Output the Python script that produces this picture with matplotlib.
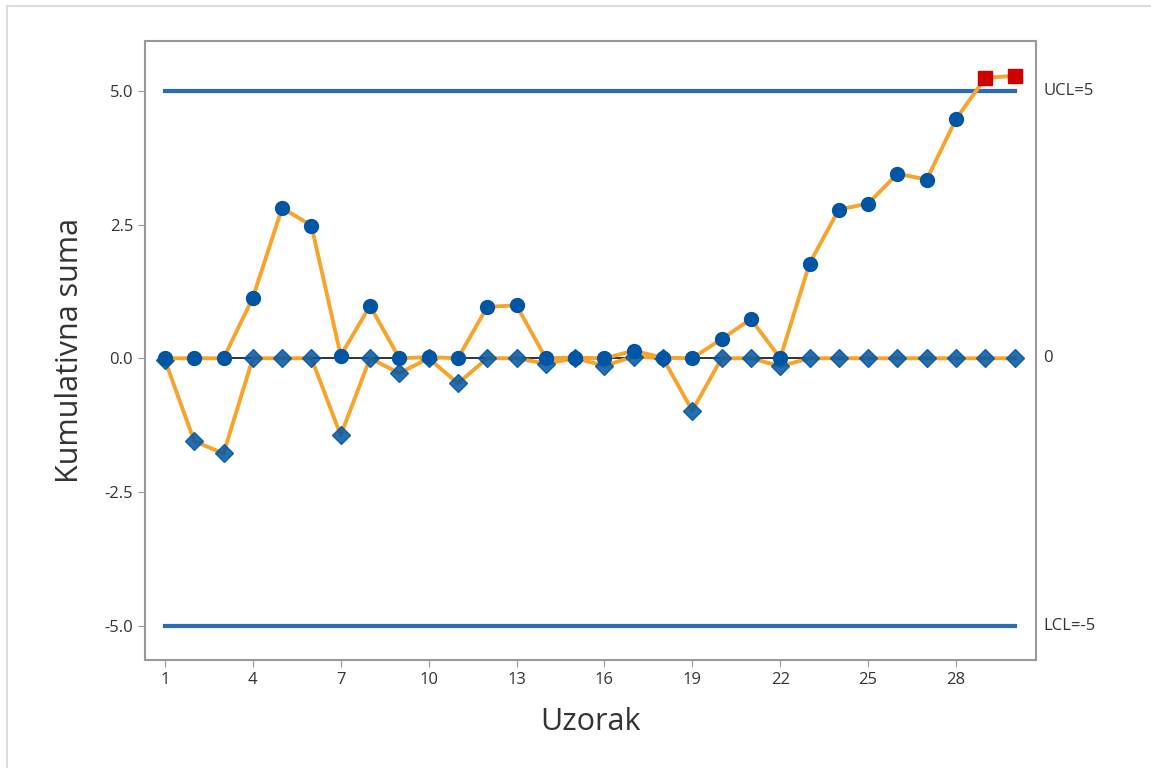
import numpy as np
import matplotlib.pyplot as plt
from matplotlib.patches import Rectangle

plt.rc('font', **{'family': 'sans-serif', 'sans-serif': ['Open Sans', 'DejaVu Sans']})

# data
samples = np.arange(1, 31)
upper = [0, 0, 0, 1.13, 2.81, 2.48, 0.05, 0.98, 0, 0.02,
         0, 0.96, 0.99, 0, 0.01, 0, 0.14, 0.01, 0, 0.36,
         0.73, 0, 1.77, 2.78, 2.89, 3.45, 3.34, 4.47, 5.24, 5.28]
lower = [-0.03, -1.55, -1.78, 0, 0, 0, -1.44, 0, -0.28, 0,
         -0.47, 0, 0, -0.1, 0, -0.14, 0.03, 0, -0.98, 0,
         0, -0.15, 0, 0, 0, 0, 0, 0, 0, 0]
ucl = 5
lcl = -5
center = 0
out_idx = [28, 29]  # points beyond UCL

orange = '#F7A42C'
blue = '#0055A5'
limit_blue = '#2B6CB8'

fig = plt.figure(figsize=(11.51, 7.68), dpi=100)
ax = fig.add_axes([145/1151, 1-660/768, (1036-145)/1151, (660-41)/768])

# outer frame
fig.patches.append(Rectangle((7/1151, -0.1), 1.2, (768-6)/768+0.1, transform=fig.transFigure,
                             fill=False, edgecolor='#dcdcdc', linewidth=1.5))

ax.plot([samples[0], samples[-1]], [ucl, ucl], color=limit_blue, lw=3, zorder=2)
ax.plot([samples[0], samples[-1]], [lcl, lcl], color=limit_blue, lw=3, zorder=2)
ax.plot([samples[0], samples[-1]], [center, center], color='#222222', lw=1.3, zorder=2)

ax.plot(samples, lower, color=orange, lw=2.8, zorder=3)
ax.plot(samples, lower, ls='none', marker='D', ms=9, color=blue, alpha=0.85, zorder=4)
ax.plot(samples, upper, color=orange, lw=2.8, zorder=5)
up = np.array(upper)
mask = np.ones(len(up), bool)
mask[out_idx] = False
ax.plot(samples[mask], up[mask], ls='none', marker='o', ms=10, color=blue, zorder=6)
ax.plot(samples[~mask], up[~mask], ls='none', marker='s', ms=10, color='#D00000', zorder=6)

ax.set_xlim(0.32, 30.73)
ax.set_ylim(-5.64, 5.93)
ax.set_xticks(np.arange(1, 29, 3))
ax.set_yticks([-5, -2.5, 0, 2.5, 5])
ax.set_yticklabels(['-5.0', '-2.5', '0.0', '2.5', '5.0'])
ax.tick_params(labelsize=12, colors='#333333', length=5, color='#999999')
for s in ax.spines.values():
    s.set_color('#999999')
    s.set_linewidth(1.5)

ax.set_xlabel('Uzorak', fontsize=22, color='#333333', labelpad=14)
ax.set_ylabel('Kumulativna suma', fontsize=22, color='#333333', labelpad=14)

tr = ax.get_yaxis_transform()
ax.text(1.008, ucl, 'UCL=5', transform=tr, va='center', fontsize=12, color='#333333')
ax.text(1.008, center, '0', transform=tr, va='center', fontsize=12, color='#333333')
ax.text(1.008, lcl, 'LCL=-5', transform=tr, va='center', fontsize=12, color='#333333')

plt.savefig('out.png', dpi=100)
